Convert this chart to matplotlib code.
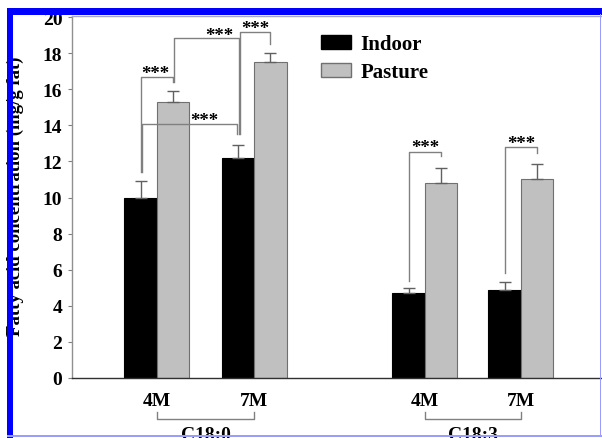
import matplotlib
matplotlib.use("Agg")
import matplotlib.pyplot as plt
from matplotlib.patches import Rectangle, Patch
import numpy as np

plt.rcParams['font.family'] = ['Liberation Serif', 'DejaVu Serif']
plt.rcParams['font.weight'] = 'bold'

# ---- data ----
periods = ["4M", "7M", "4M", "7M"]
groups = ["C18:0", "C18:3"]
indoor = [10.0, 12.2, 4.7, 4.9]
indoor_err = [0.9, 0.7, 0.28, 0.43]
pasture = [15.3, 17.5, 10.8, 11.05]
pasture_err = [0.6, 0.5, 0.85, 0.8]
yticks = [0, 2, 4, 6, 8, 10, 12, 14, 16, 18, 20]
ylabel = "Fatty acid concentration (mg/g fat)"
series_names = ["Indoor", "Pasture"]
sig_label = "***"

W, H = 602, 439
fig = plt.figure(figsize=(W / 100, H / 100), dpi=100)

def fx(px):
    return px / W

def fy(py):
    return 1 - py / H

ax = fig.add_axes([fx(72), fy(379), fx(601) - fx(72), fy(17) - fy(379)])

pos = np.array([2.615, 5.6, 10.86, 13.815])
bw = 1.0
ax.bar(pos - bw / 2, indoor, width=bw, color="black", edgecolor="black", linewidth=0.8, zorder=2)
ax.bar(pos + bw / 2, pasture, width=bw, color="#c0c0c0", edgecolor="#707070", linewidth=0.8, zorder=2)
ax.errorbar(pos - bw / 2, indoor, yerr=[np.zeros(4), indoor_err], fmt="none",
            ecolor="#606060", elinewidth=1, capsize=4.5, capthick=1, zorder=3)
ax.errorbar(pos + bw / 2, pasture, yerr=[np.zeros(4), pasture_err], fmt="none",
            ecolor="#606060", elinewidth=1, capsize=4.5, capthick=1, zorder=3)

ax.set_xlim(0, 529 / 32.5)
ax.set_ylim(0, 20.06)
ax.set_yticks(yticks)
ax.set_yticklabels([str(t) for t in yticks], fontsize=14, fontweight="bold")
ax.set_xticks(pos)
ax.set_xticklabels(periods, fontsize=14, fontweight="bold")
ax.tick_params(axis="x", length=0, pad=10)
ax.tick_params(axis="y", length=3, width=0.8, color="#808080", pad=4, direction="out")
ax.spines["right"].set_visible(False)
ax.spines["left"].set_color("#909090")
ax.spines["top"].set_color("#a8a8a8")
ax.spines["bottom"].set_color("#303030")
for s in ax.spines.values():
    s.set_linewidth(1)

ax.set_ylabel(ylabel, fontsize=13.5, fontweight="bold")
ax.yaxis.set_label_coords((24 - 72) / 529, 0.504)

# significance brackets
lc = "#808080"
I = pos - bw / 2
P = pos + bw / 2

def bracket(x1, x2, h, b1, b2, sx, sy):
    ax.plot([x1, x1, x2, x2], [b1, h, h, b2], color=lc, lw=1, zorder=4)
    ax.text(sx, sy, sig_label, ha="center", va="center", fontsize=13.5,
            fontweight="bold", zorder=5)

bracket(I[0], P[0], 16.7, 11.4, 16.4, 2.55, 16.85)
bracket(I[0] + 0.05, I[1] - 0.02, 14.1, 11.4, 13.5, 4.06, 14.25)
bracket(P[0] + 0.03, I[1] + 0.03, 18.85, 16.4, 13.5, 4.52, 19.0)
bracket(I[1] + 0.06, P[1], 19.2, 13.5, 18.5, 5.63, 19.35)
bracket(I[2], P[2], 12.55, 5.4, 12.3, pos[2], 12.75)
bracket(I[3], P[3], 12.8, 5.8, 12.45, pos[3], 13.0)

# group brackets below the axis
for gi, g in enumerate(groups):
    x1, x2 = pos[2 * gi], pos[2 * gi + 1]
    ax.plot([x1, x1, x2, x2], [-1.88, -2.27, -2.27, -1.88], color=lc, lw=1,
            clip_on=False)
    ax.text((x1 + x2) / 2, -2.65, g, ha="center", va="top", fontsize=14,
            fontweight="bold", clip_on=False)

# legend
handles = [Patch(facecolor="black", edgecolor="black"),
           Patch(facecolor="#c0c0c0", edgecolor="#707070")]
ax.legend(handles, series_names, loc="upper left",
          bbox_to_anchor=(fx(321), fy(35)), bbox_transform=fig.transFigure,
          frameon=False, handlelength=1.45, handleheight=0.65,
          handletextpad=0.45, labelspacing=0.38, borderpad=0, borderaxespad=0,
          prop={"weight": "bold", "size": 15})

# blue frame of the screenshot
blue = "#0000ff"
light = "#9c9cff"
fig.add_artist(Rectangle((fx(7), fy(15.5)), 1 - fx(7), fy(9) - fy(15.5),
                         transform=fig.transFigure, color=blue, lw=0))
fig.add_artist(Rectangle((fx(7), 0), fx(12.5) - fx(7), fy(9),
                         transform=fig.transFigure, color=blue, lw=0))
fig.add_artist(Rectangle((fx(7), fy(437.5)), 1 - fx(7), fy(436) - fy(437.5),
                         transform=fig.transFigure, color=light, lw=0))
fig.add_artist(Rectangle((fx(599.5), fy(437.5)), fx(601) - fx(599.5), fy(15) - fy(437.5),
                         transform=fig.transFigure, color=light, lw=0))

fig.savefig("out.png", dpi=100)
